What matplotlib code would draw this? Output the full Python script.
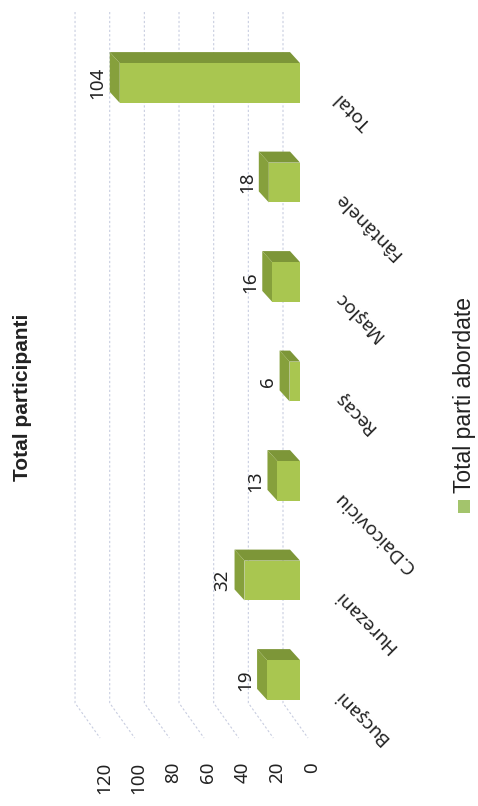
import matplotlib
matplotlib.use('Agg')
import matplotlib.pyplot as plt
from matplotlib.patches import Polygon, Rectangle

# date grafic (Total sus, Bucşani jos - graficul e rotit)
categorii = ['Total', 'Fântânele', 'Maşloc', 'Recaş', 'C.Daicoviciu', 'Hurezani', 'Bucşani']
valori = [104, 18, 16, 6, 13, 32, 19]
valori_axa = [0, 20, 40, 60, 80, 100, 120]

titlu = 'Total participanti'
legenda = 'Total parti abordate'

# culori
verde_fata = '#a9c650'
verde_inchis = '#7d9638'
verde_capat = '#86a03c'
culoare_grila = '#c8cde0'

# scara (pixeli pe unitate) si adancimea 3D
PX_X = 1.733
PX_Y = 99.5
inaltime_bara = 0.4
adancime_v = 10 / PX_X
adancime_i = -11 / PX_Y

fig = plt.figure(figsize=(4.78, 8.06), dpi=100)
ax = fig.add_axes([0, 0, 1, 1])
ax.set_xlim(300 / PX_X, -178 / PX_X)
ax.set_ylim((806 - 83) / PX_Y, -83 / PX_Y)
ax.axis('off')

# grila pe peretele din spate + podea
perete_v = 17 / PX_X
podea_v = -8 / PX_X
perete_sus = (12 - 83) / PX_Y
perete_jos = (703 - 83) / PX_Y
podea_fata = (738 - 83) / PX_Y
for v in valori_axa:
    ax.plot([v + perete_v, v + perete_v, v + podea_v],
            [perete_sus, perete_jos, podea_fata],
            color=culoare_grila, lw=0.8, ls=(0, (2, 2)), zorder=1)
    ax.text(v - 12 / PX_X, (762 - 83) / PX_Y, str(v), rotation=90,
            ha='center', va='top', fontsize=13.5, family='Noto Sans', color='#222222')

# bare 3D
pozitii = list(range(len(categorii)))
ax.barh(pozitii, valori, height=inaltime_bara, left=0, color=verde_fata, lw=0, zorder=3)
for i, v in zip(pozitii, valori):
    sus = i - inaltime_bara / 2
    jos = i + inaltime_bara / 2
    fata_sus = Polygon([(0, sus), (v, sus), (v + adancime_v, sus + adancime_i),
                        (adancime_v, sus + adancime_i)],
                       closed=True, color=verde_inchis, lw=0, zorder=2)
    capat = Polygon([(v, sus), (v, jos), (v + adancime_v, jos + adancime_i),
                     (v + adancime_v, sus + adancime_i)],
                    closed=True, color=verde_capat, lw=0, zorder=2)
    ax.add_patch(fata_sus)
    ax.add_patch(capat)
    ax.text(v + adancime_v + 3 / PX_X, i, str(v), rotation=90, ha='right', va='center',
            fontsize=13.5, family='Noto Sans', color='#222222')

# etichete categorii
for i, nume in zip(pozitii, categorii):
    ax.text(-37 / PX_X, i + 13 / PX_Y, nume, rotation=135, rotation_mode='anchor',
            ha='right', va='center', fontsize=13.5, family='Noto Sans', color='#222222')

# titlu
fig.text(23 / 478, 1 - 397 / 806, titlu, rotation=90, ha='center', va='center',
         fontsize=15, fontweight='bold', family='Liberation Sans', color='#222222')

# legenda
fig.add_artist(Rectangle((458 / 478, 1 - 513 / 806), 12 / 478, 13 / 806,
                         transform=fig.transFigure, color='#a3c46c', lw=0))
fig.text(464 / 478, 1 - 493 / 806, legenda, rotation=90, ha='center', va='bottom',
         fontsize=16.5, family='Liberation Sans', color='#222222')

fig.savefig('out.png', dpi=100, facecolor='white')
plt.close('all')
